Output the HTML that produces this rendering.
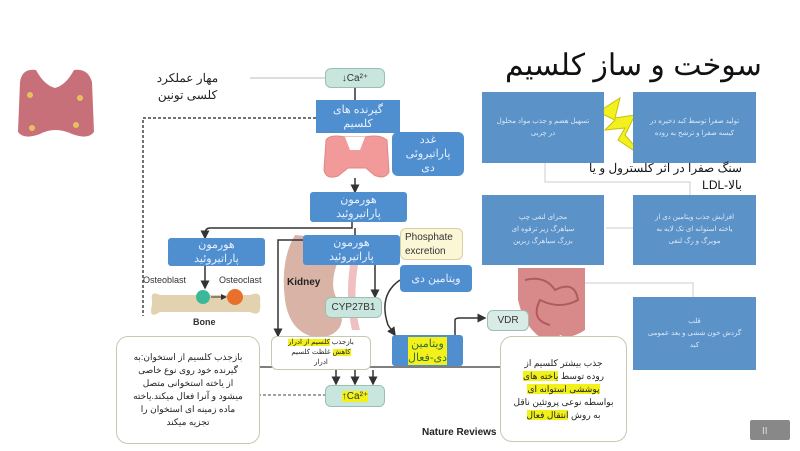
<!DOCTYPE html>
<html><head><meta charset="utf-8"><style>
body{margin:0;width:800px;height:451px;background:#fff;overflow:hidden;position:relative;font-family:"Liberation Sans","Noto Sans CJK SC",sans-serif}
.a{position:absolute}
.b{position:absolute;background:#4f8fcf;color:#e8f0ff;font-size:11px;text-align:center;line-height:14px;border-radius:3px;display:flex;align-items:center;justify-content:center}
.r{position:absolute;background:#5b93c9;color:#dde8f6;font-size:7px;text-align:center;line-height:12px;display:flex;align-items:center;justify-content:center;padding:0 6px;box-sizing:border-box}
.w{position:absolute;background:#fff;border:1.5px solid #c8c8b0;border-radius:12px;font-size:9px;text-align:center;line-height:13px;color:#222;display:flex;align-items:center;justify-content:center}
.t{position:absolute;background:#c9e6de;border:1.5px solid #9bbfb2;border-radius:6px;font-size:10px;text-align:center;color:#333;display:flex;align-items:center;justify-content:center}
.hl{background:#f2f21a}
</style></head><body>
<svg class="a" style="left:0;top:0" width="800" height="451">
<defs><marker id="m" markerWidth="6" markerHeight="6" refX="5" refY="3" orient="auto"><path d="M0,0L6,3L0,6z" fill="#333"/></marker></defs>
<path d="M20,82 Q22,68 36,70 Q44,85 55,88 Q66,85 74,70 Q88,68 92,82 L94,132 Q88,140 72,134 Q55,126 40,134 Q24,140 18,132 Z" fill="#c8707a"/>
<circle cx="30" cy="95" r="3" fill="#e8c060"/><circle cx="80" cy="98" r="3" fill="#e8c060"/><circle cx="32" cy="128" r="3" fill="#e8c060"/><circle cx="76" cy="125" r="3" fill="#e8c060"/>
<line x1="250" y1="78" x2="325" y2="78" stroke="#bbb"/>
<path d="M316,118 L143,118 L143,316" fill="none" stroke="#444" stroke-width="1.5" stroke-dasharray="3,2"/>
<line x1="355" y1="88" x2="355" y2="100" stroke="#333" stroke-width="1.5"/>
<path d="M326,140 Q330,134 345,137 L365,137 Q380,134 387,140 L389,172 Q385,180 374,175 L366,168 L348,168 L338,176 Q326,180 324,170 Z" fill="#f29a9a" stroke="#d88"/>
<path d="M345,137 L365,137 L360,150 L350,150 Z" fill="#fff"/>
<line x1="355" y1="178" x2="355" y2="192" stroke="#333" stroke-width="1.5" marker-end="url(#m)"/>
<path d="M352,222 L352,228 L210,228 Q205,228 205,234 L205,238" fill="none" stroke="#333" stroke-width="1.5" marker-end="url(#m)"/>
<line x1="355" y1="228" x2="355" y2="236" stroke="#333" stroke-width="1.5"/>
<path d="M295,235 Q280,260 285,300 Q290,335 320,338 Q340,335 342,320 L338,300 Q330,290 335,270 L345,240 Z" fill="#d9b3a6"/>
<path d="M350,265 Q345,300 352,330 L360,330 Q352,300 358,265 Z" fill="#f0c0c0"/>
<path d="M305,240 L278,240 L278,336" fill="none" stroke="#333" stroke-width="1.5" marker-end="url(#m)"/>
<line x1="375" y1="265" x2="375" y2="297" stroke="#333" stroke-width="1.5" marker-end="url(#m)"/>
<path d="M400,280 Q378,295 388,325 L395,335" fill="none" stroke="#333" stroke-width="1.5" marker-end="url(#m)"/>
<path d="M455,335 L455,320 Q455,318 460,318 L485,318" fill="none" stroke="#333" stroke-width="1.5" marker-end="url(#m)"/>
<path d="M152,300 Q150,290 160,295 L250,295 Q262,290 260,302 Q262,318 250,312 L160,312 Q148,320 152,305Z" fill="#e3d2b0"/>
<circle cx="203" cy="297" r="7" fill="#3bb89a"/><circle cx="235" cy="297" r="8" fill="#e8702a"/>
<line x1="211" y1="297" x2="226" y2="297" stroke="#333" marker-end="url(#m)"/>
<line x1="205" y1="266" x2="205" y2="288" stroke="#333" stroke-width="1.5" marker-end="url(#m)"/>
<line x1="258" y1="367" x2="500" y2="367" stroke="#555" stroke-width="1.5"/>
<line x1="336" y1="370" x2="336" y2="384" stroke="#333" stroke-width="1.5" marker-end="url(#m)"/>
<line x1="355" y1="370" x2="355" y2="384" stroke="#333" stroke-width="1.5" marker-end="url(#m)"/>
<line x1="373" y1="370" x2="373" y2="384" stroke="#333" stroke-width="1.5" marker-end="url(#m)"/>
<line x1="258" y1="395" x2="325" y2="395" stroke="#444" stroke-dasharray="3,2"/>
<path d="M518,268 L585,268 L585,330 Q570,340 560,335 L555,345 L545,340 Q525,330 518,300 Z" fill="#d88a8a"/>
<path d="M525,280 Q545,275 555,290 Q575,280 578,300 Q560,310 540,300 Q530,320 550,325" fill="none" stroke="#b05a5a" stroke-width="2"/>
<path d="M545,163 L545,182 L690,182 L690,195" fill="none" stroke="#ccc"/>
<line x1="633" y1="228" x2="606" y2="228" stroke="#ccc"/>
<path d="M585,283 L693,283 L693,297" fill="none" stroke="#ccc"/>
<path d="M598,112 L620,98 L615,118 L635,115 L625,135 L645,158 L618,140 L625,128 L605,130 L615,120 Z" fill="#f3f020" stroke="#c8c000"/>
<rect x="750" y="420" width="40" height="20" fill="#888" rx="2"/>
<text x="762" y="434" font-size="10" fill="#ddd">II</text>
</svg>
<div class="a" style="left:150px;top:70px;width:75px;font-size:12px;text-align:center;line-height:17px;color:#222">مهار عملکرد<br>کلسی تونین</div>
<div class="t" style="left:325px;top:68px;width:58px;height:18px">↓Ca²⁺</div>
<div class="b" style="left:316px;top:100px;width:84px;height:33px;border-radius:0"><div>گیرنده های<br>کلسیم</div></div>
<div class="b" style="left:392px;top:132px;width:72px;height:44px;border-radius:6px"><div>غدد<br>پاراتیروئی<br>دی</div></div>
<div class="b" style="left:310px;top:192px;width:97px;height:30px"><div>هورمون<br>پاراتیروئید</div></div>
<div class="b" style="left:168px;top:238px;width:97px;height:28px"><div>هورمون<br>پاراتیروئید</div></div>
<div class="b" style="left:303px;top:235px;width:97px;height:30px"><div>هورمون<br>پاراتیروئید</div></div>
<div class="a" style="left:400px;top:228px;width:63px;height:32px;background:#fbf6d6;border:1.5px solid #d8d0a0;border-radius:6px;font-size:10px;line-height:14px;padding-left:4px;box-sizing:border-box;padding-top:2px;color:#333">Phosphate<br>excretion</div>
<div class="b" style="left:400px;top:265px;width:72px;height:27px;border-radius:4px">ویتامین دی</div>
<div class="a" style="left:287px;top:277px;font-size:10px;font-weight:bold;color:#222">Kidney</div>
<div class="t" style="left:325px;top:297px;width:55px;height:19px">CYP27B1</div>
<div class="a" style="left:143px;top:275px;font-size:9px;color:#333">Osteoblast</div>
<div class="a" style="left:219px;top:275px;font-size:9px;color:#333">Osteoclast</div>
<div class="a" style="left:193px;top:317px;font-size:9px;font-weight:bold;color:#333">Bone</div>
<div class="w" style="left:271px;top:336px;width:98px;height:32px;font-size:7px;line-height:10px;border-radius:6px"><div>بازجذب <span class="hl">کلسیم از ادرار</span><br><span class="hl">کاهش</span> غلظت کلسیم<br>ادرار</div></div>
<div class="w" style="left:116px;top:336px;width:142px;height:106px"><div>بازجذب کلسیم از استخوان:به<br>گیرنده خود روی نوع خاصی<br>از یاخته استخوانی متصل<br>میشود و آنرا فعال میکند.یاخته<br>ماده زمینه ای استخوان را<br>تجزیه میکند</div></div>
<div class="b" style="left:392px;top:335px;width:71px;height:31px"><div class="hl" style="color:#3a6a3a">ویتامین<br>دی-فعال</div></div>
<div class="t" style="left:325px;top:385px;width:58px;height:20px"><span class="hl">↑Ca²⁺</span></div>
<div class="t" style="left:487px;top:310px;width:40px;height:19px;background:#d9ebe6">VDR</div>
<div class="w" style="left:500px;top:336px;width:125px;height:104px"><div>جذب بیشتر کلسیم از<br>روده توسط <span class="hl">یاخته های</span><br><span class="hl">پوششی استوانه ای</span><br>بواسطه نوعی پروتئین ناقل<br>به روش <span class="hl">انتقال فعال</span></div></div>
<div class="a" style="left:422px;top:427px;font-size:10px;font-weight:bold;color:#222">Nature Reviews</div>
<div class="a" style="left:505px;top:48px;width:240px;text-align:right;font-size:30px;color:#111;white-space:nowrap">سوخت و ساز کلسیم</div>
<div class="r" style="left:482px;top:92px;width:122px;height:71px"><div>تسهیل هضم و جذب مواد محلول<br>در چربی</div></div>
<div class="r" style="left:633px;top:92px;width:123px;height:71px"><div>تولید صفرا توسط کبد ذخیره در<br>کیسه صفرا و ترشح به روده</div></div>
<div class="a" style="left:570px;top:160px;width:172px;text-align:right;font-size:12px;line-height:17px;color:#111">سنگ صفرا در اثر کلسترول و یا<br>LDL-بالا</div>
<div class="r" style="left:482px;top:195px;width:122px;height:70px"><div>مجرای لنفی چپ<br>سیاهرگ زیر ترقوه ای<br>بزرگ سیاهرگ زبرین</div></div>
<div class="r" style="left:633px;top:195px;width:123px;height:70px"><div>افزایش جذب ویتامین دی از<br>یاخته استوانه ای تک لایه به<br>مویرگ و رگ لنفی</div></div>
<div class="r" style="left:633px;top:297px;width:123px;height:73px"><div>قلب<br>گردش خون ششی و بعد عمومی<br>کبد</div></div>
</body></html>
